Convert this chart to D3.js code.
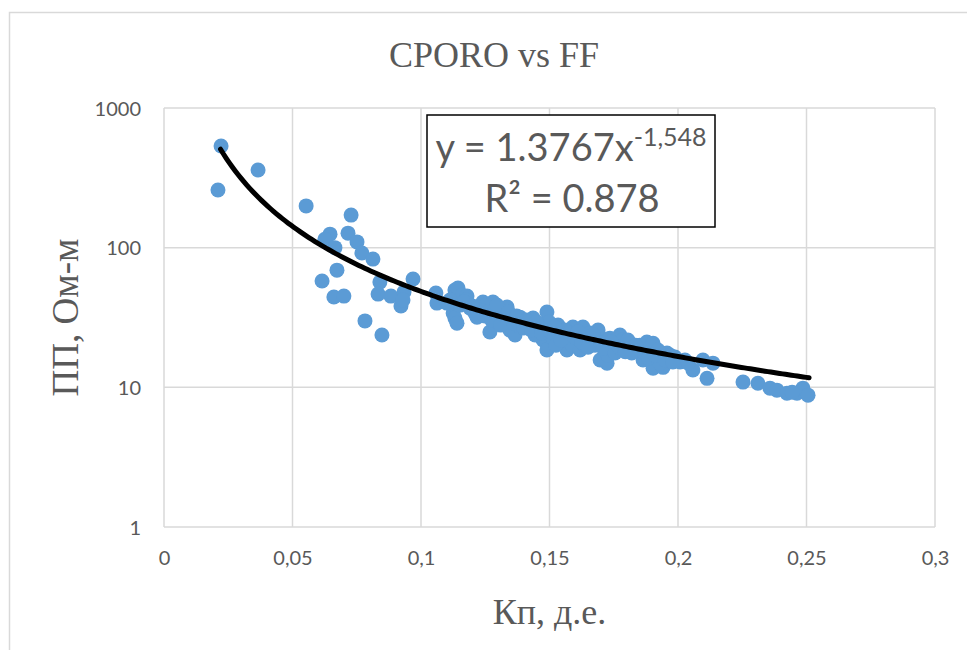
<!DOCTYPE html>
<html>
<head>
<meta charset="utf-8">
<script src="https://cdn.jsdelivr.net/npm/d3@7"></script>
<style>
  html, body { margin: 0; padding: 0; background: #fff; overflow: hidden; }
</style>
</head>
<body>
<svg id="chart" width="967" height="650"></svg>
<script>
// ---- Data ----
const porosity = [
  0.0222, 0.0210, 0.0366, 0.0553, 0.0728, 0.0646, 0.0716, 0.0751, 0.0626, 0.0665,
  0.0770, 0.0813, 0.0673, 0.0615, 0.0661, 0.0700, 0.0840, 0.0833, 0.0883, 0.0782,
  0.0848, 0.0922, 0.0934, 0.0930, 0.0969, 0.1058, 0.1062,
  0.1132, 0.1144, 0.1160, 0.1179, 0.1113, 0.1125, 0.1132, 0.1140, 0.1152, 0.1191, 0.1175, 0.1101,
  0.1218, 0.1241, 0.1253, 0.1268, 0.1280, 0.1230, 0.1261, 0.1288, 0.1300,
  0.1335, 0.1346, 0.1366, 0.1319, 0.1385, 0.1354, 0.1377, 0.1327, 0.1393,
  0.1436, 0.1490, 0.1475, 0.1490, 0.1424, 0.1455, 0.1482, 0.1463, 0.1444, 0.1498,
  0.1541, 0.1568, 0.1591, 0.1514, 0.1525, 0.1553, 0.1580, 0.1533, 0.1560, 0.1588,
  0.1630, 0.1619, 0.1697, 0.1646, 0.1658, 0.1677, 0.1638, 0.1689, 0.1665,
  0.1697, 0.1724, 0.1774, 0.1747, 0.1716, 0.1735, 0.1763, 0.1786, 0.1728,
  0.1825, 0.1879, 0.1864, 0.1813, 0.1844, 0.1805, 0.1852, 0.1891,
  0.1903, 0.1942, 0.1957, 0.1903, 0.1930, 0.1969, 0.1988, 0.1922,
  0.2008, 0.2058, 0.2097, 0.2113, 0.2136, 0.2027,
  0.2253, 0.2311, 0.2358, 0.2385, 0.2424, 0.2463, 0.2486, 0.2506, 0.2444,
  0.1168, 0.1200, 0.1210, 0.1248, 0.1275, 0.1295, 0.1310, 0.1340, 0.1360, 0.1372,
  0.1400, 0.1410, 0.1430, 0.1450, 0.1470, 0.1505, 0.1520, 0.1545, 0.1575, 0.1600,
  0.1610, 0.1625, 0.1650, 0.1670, 0.1700, 0.1710, 0.1740, 0.1755, 0.1770, 0.1795,
  0.1820, 0.1835, 0.1870, 0.1885, 0.1910, 0.1950, 0.1980, 0.2040
];
const resistivity = [
  535, 259, 360, 199, 171, 125, 127, 110, 115, 100,
  91.5, 82.8, 69, 57.7, 44.3, 45.0, 56.7, 46.5, 45.0, 29.9,
  23.7, 38.2, 48.1, 42.2, 59.6, 47.3, 40.1,
  49.7, 51.4, 45.7, 45.0, 42.2, 34.0, 31.3, 28.8, 38.8, 36.9, 42.2, 40.1,
  31.8, 40.8, 38.8, 24.9, 40.8, 35.7, 34.6, 35.7, 32.9,
  37.6, 25.7, 23.7, 30.3, 31.8, 30.3, 27.9, 32.9, 29.3,
  31.3, 34.6, 21.8, 18.5, 29.3, 26.6, 27.9, 25.0, 23.7, 29.3,
  25.7, 18.5, 27.0, 22.5, 20.0, 23.7, 21.8, 27.9, 25.7, 20.0,
  27.0, 18.5, 22.9, 21.8, 24.5, 20.0, 20.0, 25.7, 22.5,
  15.7, 14.9, 23.7, 18.5, 21.1, 22.5, 20.0, 21.8, 17.0,
  19.4, 21.1, 15.7, 20.7, 18.5, 21.8, 20.0, 19.0,
  13.7, 13.9, 17.6, 20.7, 14.9, 17.0, 16.5, 18.5,
  15.2, 13.3, 15.7, 11.6, 14.9, 15.7,
  10.9, 10.7, 9.87, 9.55, 9.08, 9.08, 9.87, 8.79, 9.24,
  40.8, 38.2, 34.0, 32.4, 30.3, 38.8, 27.9, 34.6, 28.8, 32.4,
  26.6, 30.3, 25.7, 29.3, 24.5, 25.0, 27.0, 21.8, 24.5, 22.9,
  25.0, 21.1, 19.4, 23.7, 20.7, 19.0, 21.1, 17.6, 19.4, 18.0,
  17.6, 20.0, 17.6, 16.2, 17.0, 15.7, 15.2, 14.9
];
const xTicks = [0, 0.05, 0.1, 0.15, 0.2, 0.25, 0.3];
const xTickLabels = ["0", "0,05", "0,1", "0,15", "0,2", "0,25", "0,3"];
const yTicks = [1, 10, 100, 1000];
const yTickLabels = ["1", "10", "100", "1000"];
// Power trendline y = a * x^b, shown in the chart
const trendA = 1.3767;
const trendB = -1.548;
const trendRange = [0.022, 0.251];
const titleText = "CPORO vs FF";
const xTitle = "Кп, д.е.";
const yTitle = "ПП, Ом-м";

// ---- Layout ----
const svg = d3.select("#chart");
const plot = { left: 164, right: 935, top: 108, bottom: 527 };
const x = d3.scaleLinear().domain([0, 0.3]).range([plot.left, plot.right]);
const y = d3.scaleLog().domain([1, 1000]).range([plot.bottom, plot.top]);
const gray = "#595959";
const gridColor = "#d9d9d9";
const tickFont = "Lato, 'Open Sans', sans-serif";
const serif = "'Liberation Serif', 'DejaVu Serif', serif";

// chart frame
svg.append("rect").attr("x", 9.5).attr("y", 12.5).attr("width", 1000).attr("height", 1000)
  .attr("fill", "#fff").attr("stroke", gridColor).attr("stroke-width", 1.5);

// gridlines
const grid = svg.append("g");
grid.selectAll("line.v").data(xTicks).join("line")
  .attr("x1", d => x(d)).attr("x2", d => x(d))
  .attr("y1", plot.top).attr("y2", plot.bottom)
  .attr("stroke", gridColor).attr("stroke-width", 1.5);
grid.selectAll("line.h").data(yTicks).join("line")
  .attr("x1", plot.left).attr("x2", plot.right)
  .attr("y1", d => y(d)).attr("y2", d => y(d))
  .attr("stroke", gridColor).attr("stroke-width", 1.5);

// axes (labels only, via d3 axes)
const xAxis = d3.axisBottom(x).tickValues(xTicks).tickFormat((d, i) => xTickLabels[i]).tickSize(0).tickPadding(0);
const gx = svg.append("g").attr("transform", `translate(0, ${plot.bottom})`).call(xAxis);
gx.select(".domain").remove();
gx.selectAll("text").attr("font-family", tickFont).attr("font-size", 20).attr("fill", gray)
  .attr("dy", null).attr("y", 38);

const yAxis = d3.axisLeft(y).tickValues(yTicks).tickFormat((d, i) => yTickLabels[i]).tickSize(0).tickPadding(0);
const gy = svg.append("g").attr("transform", `translate(${plot.left}, 0)`).call(yAxis);
gy.select(".domain").remove();
gy.selectAll("text").attr("font-family", tickFont).attr("font-size", 20).attr("fill", gray)
  .attr("x", -23).attr("dy", "0.35em");

// points
const pts = porosity.map((p, i) => [p, resistivity[i]]);
svg.append("g").selectAll("circle").data(pts).join("circle")
  .attr("cx", d => x(d[0])).attr("cy", d => y(d[1])).attr("r", 7.5)
  .attr("fill", "#5b9bd5");

// trendline
const trendPts = d3.range(0, 201).map(i => {
  const xv = trendRange[0] + (trendRange[1] - trendRange[0]) * i / 200;
  return [xv, trendA * Math.pow(xv, trendB)];
});
svg.append("path").datum(trendPts)
  .attr("d", d3.line().x(d => x(d[0])).y(d => y(d[1])).curve(d3.curveLinear))
  .attr("fill", "none").attr("stroke", "#000").attr("stroke-width", 5)
  .attr("stroke-linecap", "round").attr("stroke-linejoin", "round");

// equation box
const box = svg.append("g");
box.append("rect").attr("x", 427).attr("y", 115).attr("width", 288).attr("height", 112)
  .attr("fill", "#fff").attr("stroke", "#000").attr("stroke-width", 1.5);
const eq = box.append("text").attr("x", 571).attr("y", 160.5).attr("text-anchor", "middle")
  .attr("font-family", tickFont).attr("font-size", 38).attr("fill", gray);
eq.append("tspan").text("y = " + trendA + "x");
eq.append("tspan").attr("font-size", 25).attr("dy", -15).text(String(trendB).replace(".", ","));
box.append("text").attr("x", 572).attr("y", 212).attr("text-anchor", "middle")
  .attr("font-family", tickFont).attr("font-size", 38).attr("fill", gray)
  .text("R² = 0.878");

// titles
svg.append("text").attr("x", 494).attr("y", 67).attr("text-anchor", "middle")
  .attr("font-family", serif).attr("font-size", 36).attr("fill", gray).text(titleText);
svg.append("text").attr("x", (plot.left + plot.right) / 2).attr("y", 624).attr("text-anchor", "middle")
  .attr("font-family", serif).attr("font-size", 36).attr("fill", gray).text(xTitle);
svg.append("text").attr("transform", `translate(78, ${(plot.top + plot.bottom) / 2}) rotate(-90)`)
  .attr("text-anchor", "middle")
  .attr("font-family", serif).attr("font-size", 37).attr("fill", gray).text(yTitle);
</script>
</body>
</html>
